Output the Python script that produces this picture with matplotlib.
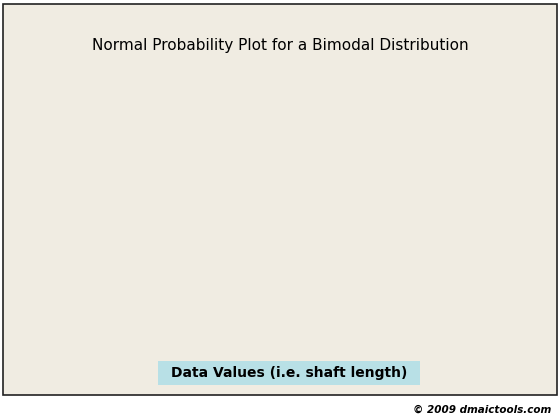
import matplotlib
matplotlib.use("Agg")
import matplotlib.pyplot as plt
from matplotlib.patches import Rectangle
import numpy as np
from statistics import NormalDist

ND = NormalDist()

data_x = [-1.0, -0.2, 0.2, 0.85, 1.0, 1.15, 1.35, 1.45, 1.6, 1.75, 1.85, 1.9, 1.92, 1.93,
          1.94, 1.95, 1.97, 2.0, 2.05, 2.13, 2.3, 2.45, 2.6, 2.8, 3.0, 3.2, 3.3, 3.35, 3.45,
          3.5, 3.55, 3.63, 3.7, 3.8, 3.95, 4.1, 4.2, 4.29, 4.4, 4.5, 4.65, 4.8, 4.9, 5.04, 5.15,
          5.3, 5.45, 5.6, 5.8, 5.98, 6.15, 6.3, 6.5, 6.7, 6.9, 7.1, 7.3, 7.48, 7.7, 7.9, 8.1,
          8.3, 8.55, 8.79, 9.0, 9.2, 9.4, 9.6, 9.85, 10.1, 10.3, 10.5, 10.65, 10.8, 10.9, 11.0,
          11.1, 11.23, 11.35, 11.5, 11.7, 11.9, 12.05, 12.16, 12.3, 12.4, 12.5, 12.6, 12.75,
          12.85, 13.0, 13.1, 13.25, 13.35, 13.45, 13.5, 13.55, 13.6, 13.75, 13.9, 14.05, 14.2,
          14.35, 14.5, 14.6, 14.7, 15.3, 15.6, 15.8, 16.1, 16.8, 17.5]
data_pct = [0.17, 0.42, 0.67, 0.92, 1.17, 1.42, 1.67, 1.9, 2.15, 2.4, 2.65, 2.9, 3.3, 3.7,
            4.1, 4.5, 4.9, 5.3, 5.7, 6.2, 6.7, 7.1, 7.5, 8.0, 8.6, 9.3, 9.9, 10.5, 11.5,
            12.5, 13.5, 15.0, 15.8, 16.5, 18.0, 20.0, 21.8, 23.5, 24.2, 25.0, 26.3, 27.5, 28.7, 30.0, 31.2,
            32.5, 33.8, 35.0, 36.8, 38.5, 39.8, 41.0, 42.2, 43.5, 44.8, 46.0, 47.5, 49.0, 50.2, 51.5, 52.7,
            54.0, 55.5, 57.0, 58.2, 59.5, 60.7, 62.0, 63.7, 65.5, 67.0, 68.5, 69.8, 71.0, 72.0, 73.0,
            74.5, 76.0, 77.2, 78.5, 79.8, 81.0, 82.3, 83.6, 84.8, 86.0, 87.5, 89.0, 90.0,
            91.0, 92.0, 93.0, 93.8, 94.5, 95.0, 95.6, 96.1, 96.6, 96.9, 97.2, 97.5, 97.7,
            97.9, 98.1, 98.25, 98.4, 98.6, 98.83, 99.08, 99.33, 99.58, 99.83]

line_mean = 7.83
line_sd = 3.745
line_x = [-4.0, 20.0]

y_ticks = [0.1, 1, 5, 10, 20, 30, 40, 50, 60, 70, 80, 90, 95, 99, 99.9]
y_labels = ["0.1", "1", "5", "10", "20", "30", "40", "50", "60", "70", "80", "90", "95", "99", "99.9"]
x_ticks = [-5, 0, 5, 10, 15, 20]
x_grid = [-5, -2.5, 0, 2.5, 5, 7.5, 10, 12.5, 15, 17.5, 20]

def z(p):
    return [ND.inv_cdf(v / 100.0) for v in p]

fig = plt.figure(figsize=(5.6, 4.2), dpi=100)
fig.patch.set_facecolor("white")
fig.patches.append(Rectangle((0.005, 0.06), 0.99, 0.93, transform=fig.transFigure,
                             facecolor="#f0ece2", edgecolor="#222222", lw=1.2, zorder=0))

ax = fig.add_axes([0.116, 0.193, 0.836, 0.643])
ax.set_facecolor("white")
ax.set_xlim(-5.45, 20.9)
ax.set_ylim(ND.inv_cdf(0.001), ND.inv_cdf(0.999))

for gx in x_grid:
    ax.axvline(gx, color="#bbbbbb", ls=(0, (4, 3)), lw=0.9, zorder=1)
for gy in z(y_ticks):
    ax.axhline(gy, color="#bbbbbb", ls=(0, (4, 3)), lw=0.9, zorder=1)

lx = np.array(line_x)
ax.plot(lx, (lx - line_mean) / line_sd, color="#3333ff", lw=0.8, zorder=2)
ax.scatter(data_x, z(data_pct), s=18, color="#ff0000", edgecolors="none", zorder=3)

ax.set_yticks(z(y_ticks))
ax.set_yticklabels(y_labels, fontsize=6.5, fontweight="bold", family="DejaVu Serif")
ax.set_xticks(x_ticks)
ax.set_xticklabels([str(v) for v in x_ticks], fontsize=9.5)
ax.tick_params(length=3, width=0.8, pad=2)
for s in ax.spines.values():
    s.set_color("#444444")

ax.set_ylabel("Percent", fontsize=10, fontweight="bold", labelpad=6)
fig.text(0.5, 0.892, "Normal Probability Plot for a Bimodal Distribution", ha="center",
         va="center", fontsize=11)

fig.patches.append(Rectangle((158 / 560, 1 - 385 / 420), 262 / 560, 24 / 420,
                             transform=fig.transFigure, facecolor="#b8e0e6", edgecolor="none", zorder=1))
fig.text(289 / 560, 1 - 373 / 420, "Data Values (i.e. shaft length)", ha="center", va="center",
         fontsize=10, fontweight="bold")
fig.text(0.985, 0.012, "© 2009 dmaictools.com", ha="right", va="bottom", fontsize=7.5,
         fontweight="bold", style="italic")

fig.savefig("out.png", dpi=100, facecolor=fig.get_facecolor())
